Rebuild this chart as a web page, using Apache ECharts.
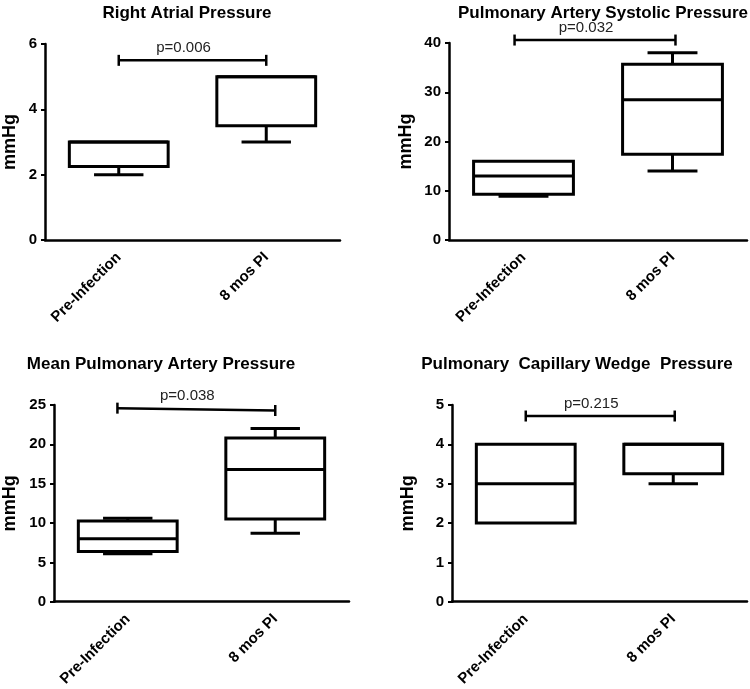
<!DOCTYPE html>
<html>
<head>
<meta charset="utf-8">
<script src="https://cdn.jsdelivr.net/npm/echarts@6/dist/echarts.min.js"></script>
<style>
html,body{margin:0;padding:0;background:#fff;}
#c{width:750px;height:689px;}
</style>
</head>
<body>
<div id="c"></div>
<script>
// ---- data ----
const categories = ['Pre-Infection', '8 mos PI'];
const titles = ['Right Atrial Pressure', 'Pulmonary Artery Systolic Pressure', 'Mean Pulmonary Artery Pressure', 'Pulmonary  Capillary Wedge  Pressure'];
// [min, Q1, median, Q3, max]
const rapPre  = [2, 2.25, 3, 3, 3];
const rapPost = [3, 3.5, 5, 5, 5];
const paspPre  = [8.9, 9.3, 13, 16, 16];
const paspPost = [14, 17.4, 28.5, 35.7, 38];
const mpapPre  = [6.1, 6.4, 8, 10.25, 10.6];
const mpapPost = [8.7, 10.5, 16.8, 20.8, 22];
const pcwpPre  = [2, 2, 3, 4, 4];
const pcwpPost = [3, 3.25, 4, 4, 4];
const pValues = ['p=0.006', 'p=0.032', 'p=0.038', 'p=0.215'];
// bracket heights [left, right] in axis units
const bracketY = [[5.5, 5.5], [40.6, 40.6], [24.6, 24.3], [4.72, 4.72]];
// bracket ends, in category units
const bracketX = [[0, 1], [-0.06, 1.02], [-0.07, 1.0], [0, 1.01]];
const yMax = [6, 40, 25, 5];
const yInterval = [2, 10, 5, 1];

const boxes = [[rapPre, rapPost], [paspPre, paspPost], [mpapPre, mpapPost], [pcwpPre, pcwpPost]];

// ---- layout ----
const grids = [
  {left: 45, top: 44, width: 295, height: 196},
  {left: 449, top: 43, width: 298, height: 197},
  {left: 54, top: 405, width: 295, height: 197},
  {left: 452, top: 405, width: 295, height: 198}
];
const titlePos = [[182, 0], [598, 0], [156, 351], [572, 351]];
const nameGaps = [26, 34, 35, 35];
const FONT = '"Liberation Sans", Arial, Helvetica, sans-serif';
const INK = '#000';

function renderBox(params, api) {
  const c = api.value(0);
  const v = [1, 2, 3, 4, 5].map(i => api.value(i));
  const band = api.size([1, 0])[0];
  const bw = band * 0.67;
  const cw = bw * 0.5;
  const x = api.coord([c, 0])[0];
  const y = val => api.coord([c, val])[1];
  const st = {stroke: INK, lineWidth: 3, fill: null, lineCap: 'butt'};
  const line = (x1, y1, x2, y2) => ({type: 'line', shape: {x1, y1, x2, y2}, style: st});
  const children = [];
  if (v[1] !== v[0]) {
    children.push(line(x, y(v[1]), x, y(v[0])));
    children.push(line(x - cw / 2, y(v[0]), x + cw / 2, y(v[0])));
  }
  if (v[4] !== v[3]) {
    children.push(line(x, y(v[3]), x, y(v[4])));
    children.push(line(x - cw / 2, y(v[4]), x + cw / 2, y(v[4])));
  }
  children.push({type: 'rect', shape: {x: x - bw / 2, y: y(v[3]), width: bw, height: y(v[1]) - y(v[3])},
    style: {stroke: INK, lineWidth: 3, fill: '#fff'}});
  children.push(line(x - bw / 2, y(v[2]), x + bw / 2, y(v[2])));
  return {type: 'group', children};
}

const pLabelFor = {};
function renderBracket(params, api) {
  const band = api.size([1, 0])[0];
  const x0 = api.coord([0, 0])[0];
  const xl = x0 + api.value(0) * band;
  const xr = x0 + api.value(1) * band;
  const yl = api.coord([0, api.value(2)])[1];
  const yr = api.coord([0, api.value(3)])[1];
  const st = {stroke: INK, lineWidth: 2.5};
  const i = params.seriesIndex;
  return {type: 'group', children: [
    {type: 'line', shape: {x1: xl, y1: yl, x2: xr, y2: yr}, style: st},
    {type: 'line', shape: {x1: xl, y1: yl - 5.5, x2: xl, y2: yl + 5.5}, style: st},
    {type: 'line', shape: {x1: xr, y1: yr - 5.5, x2: xr, y2: yr + 5.5}, style: st},
    {type: 'text', x: (xl + xr) / 2 - 9, y: Math.min(yl, yr) - 5,
      style: {text: pLabelFor[i], fill: '#222', font: 'normal 15px ' + FONT, textAlign: 'center', textVerticalAlign: 'bottom'}}
  ]};
}

const option = {
  backgroundColor: '#fff',
  animation: false,
  title: titles.map((t, i) => ({
    text: t, left: titlePos[i][0], top: titlePos[i][1], textAlign: 'center',
    textStyle: {fontFamily: FONT, fontWeight: 'bold', fontSize: 17, color: INK}
  })),
  grid: grids,
  xAxis: grids.map((g, i) => ({
    type: 'category', gridIndex: i, data: categories,
    axisLine: {lineStyle: {color: INK, width: 2.5}},
    axisTick: {alignWithLabel: true, length: 6, lineStyle: {color: INK, width: 2}},
    axisLabel: {rotate: 45, margin: 15, color: INK, fontFamily: FONT, fontWeight: 'bold', fontSize: 15}
  })),
  yAxis: grids.map((g, i) => ({
    type: 'value', gridIndex: i, min: 0, max: yMax[i], interval: yInterval[i],
    name: 'mmHg', nameLocation: 'middle', nameGap: nameGaps[i], nameRotate: 90,
    nameTextStyle: {fontFamily: FONT, fontWeight: 'bold', fontSize: 18, color: INK},
    axisLine: {show: true, lineStyle: {color: INK, width: 2.5}},
    axisTick: {show: true, length: 4, lineStyle: {color: INK, width: 2}},
    splitLine: {show: false},
    axisLabel: {margin: 8, color: INK, fontFamily: FONT, fontWeight: 'bold', fontSize: 15}
  })),
  series: []
};

boxes.forEach((pair, i) => {
  option.series.push({
    type: 'custom', xAxisIndex: i, yAxisIndex: i,
    renderItem: renderBox,
    encode: {x: 0, y: [1, 2, 3, 4, 5]},
    data: pair.map((b, k) => [k].concat(b)),
    z: 2
  });
});
boxes.forEach((pair, i) => {
  pLabelFor[option.series.length] = pValues[i];
  option.series.push({
    type: 'custom', xAxisIndex: i, yAxisIndex: i,
    renderItem: renderBracket,
    encode: {y: [2, 3]},
    data: [[bracketX[i][0], bracketX[i][1], bracketY[i][0], bracketY[i][1]]],
    clip: false,
    z: 3
  });
});

const chart = echarts.init(document.getElementById('c'), null, {renderer: 'canvas'});
chart.setOption(option);
</script>
</body>
</html>
